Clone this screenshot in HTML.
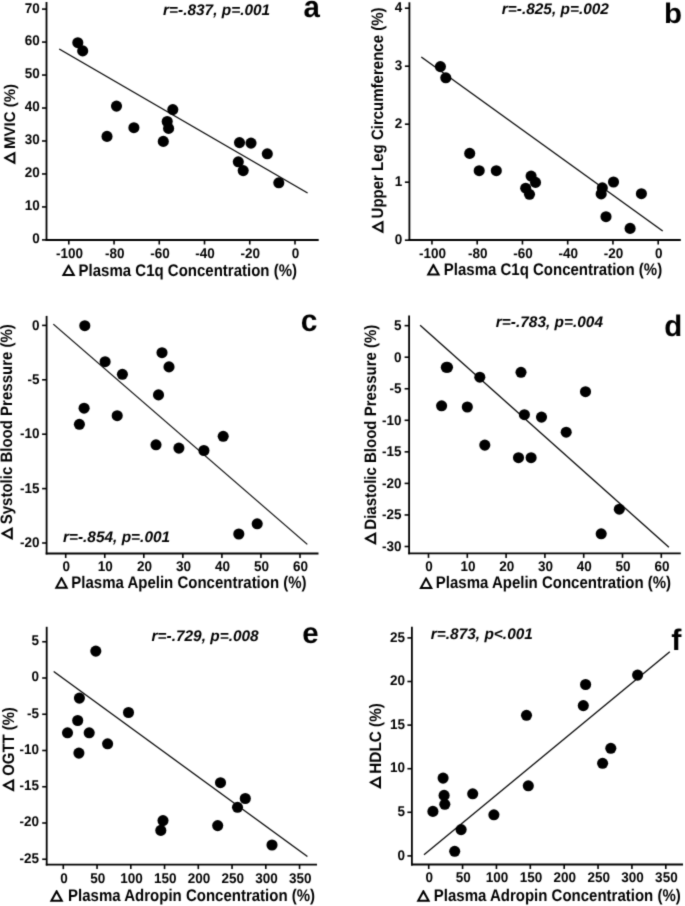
<!DOCTYPE html>
<html><head><meta charset="utf-8"><style>
html,body{margin:0;padding:0;background:#fff;}
body{width:685px;height:906px;overflow:hidden;}
svg{display:block;}
#w{width:685px;height:906px;will-change:transform;}
text{font-family:"Liberation Sans",sans-serif;font-weight:bold;fill:#000;text-rendering:geometricPrecision;}
.tk{font-size:13.5px;}
.tt{font-size:15.0px;}
.rt{font-size:15.43px;font-style:italic;}
.lt{font-size:29.5px;}
</style></head><body>
<div id="w"><svg width="685" height="906" viewBox="0 0 685 906">
<defs><filter id="bl" x="-2%" y="-2%" width="104%" height="104%"><feConvolveMatrix order="3" kernelMatrix="0.01917 0.10012 0.01917 0.10012 0.52283 0.10012 0.01917 0.10012 0.01917" preserveAlpha="false" edgeMode="none"/></filter></defs>
<rect width="685" height="906" fill="#fff"/>
<g filter="url(#bl)"><line x1="46.50" y1="2.00" x2="46.50" y2="240.90" stroke="#000" stroke-width="1.8"/>
<line x1="45.60" y1="240.00" x2="318.70" y2="240.00" stroke="#000" stroke-width="1.8"/>
<line x1="42.00" y1="239.90" x2="46.50" y2="239.90" stroke="#000" stroke-width="1.6"/>
<text transform="translate(39.80 243.30) scale(1.0000 1.0400)" text-anchor="end" class="tk">0</text>
<line x1="42.00" y1="206.93" x2="46.50" y2="206.93" stroke="#000" stroke-width="1.6"/>
<text transform="translate(39.80 210.33) scale(1.0000 1.0400)" text-anchor="end" class="tk">10</text>
<line x1="42.00" y1="173.96" x2="46.50" y2="173.96" stroke="#000" stroke-width="1.6"/>
<text transform="translate(39.80 177.36) scale(1.0000 1.0400)" text-anchor="end" class="tk">20</text>
<line x1="42.00" y1="140.99" x2="46.50" y2="140.99" stroke="#000" stroke-width="1.6"/>
<text transform="translate(39.80 144.39) scale(1.0000 1.0400)" text-anchor="end" class="tk">30</text>
<line x1="42.00" y1="108.02" x2="46.50" y2="108.02" stroke="#000" stroke-width="1.6"/>
<text transform="translate(39.80 111.42) scale(1.0000 1.0400)" text-anchor="end" class="tk">40</text>
<line x1="42.00" y1="75.05" x2="46.50" y2="75.05" stroke="#000" stroke-width="1.6"/>
<text transform="translate(39.80 78.45) scale(1.0000 1.0400)" text-anchor="end" class="tk">50</text>
<line x1="42.00" y1="42.08" x2="46.50" y2="42.08" stroke="#000" stroke-width="1.6"/>
<text transform="translate(39.80 45.48) scale(1.0000 1.0400)" text-anchor="end" class="tk">60</text>
<line x1="42.00" y1="9.11" x2="46.50" y2="9.11" stroke="#000" stroke-width="1.6"/>
<text transform="translate(39.80 12.51) scale(1.0000 1.0400)" text-anchor="end" class="tk">70</text>
<line x1="68.80" y1="240.00" x2="68.80" y2="244.50" stroke="#000" stroke-width="1.6"/>
<text transform="translate(69.40 257.90) scale(1.0000 1.0400)" text-anchor="middle" class="tk">-100</text>
<line x1="114.04" y1="240.00" x2="114.04" y2="244.50" stroke="#000" stroke-width="1.6"/>
<text transform="translate(114.64 257.90) scale(1.0000 1.0400)" text-anchor="middle" class="tk">-80</text>
<line x1="159.28" y1="240.00" x2="159.28" y2="244.50" stroke="#000" stroke-width="1.6"/>
<text transform="translate(159.88 257.90) scale(1.0000 1.0400)" text-anchor="middle" class="tk">-60</text>
<line x1="204.52" y1="240.00" x2="204.52" y2="244.50" stroke="#000" stroke-width="1.6"/>
<text transform="translate(205.12 257.90) scale(1.0000 1.0400)" text-anchor="middle" class="tk">-40</text>
<line x1="249.76" y1="240.00" x2="249.76" y2="244.50" stroke="#000" stroke-width="1.6"/>
<text transform="translate(250.36 257.90) scale(1.0000 1.0400)" text-anchor="middle" class="tk">-20</text>
<line x1="295.00" y1="240.00" x2="295.00" y2="244.50" stroke="#000" stroke-width="1.6"/>
<text transform="translate(295.60 257.90) scale(1.0000 1.0400)" text-anchor="middle" class="tk">0</text>
<line x1="59.20" y1="49.00" x2="307.60" y2="193.10" stroke="#000" stroke-width="1.2"/>
<circle cx="77.80" cy="42.70" r="5.55" fill="#000"/>
<circle cx="82.70" cy="50.90" r="5.55" fill="#000"/>
<circle cx="116.50" cy="106.10" r="5.55" fill="#000"/>
<circle cx="133.90" cy="127.70" r="5.55" fill="#000"/>
<circle cx="107.00" cy="136.40" r="5.55" fill="#000"/>
<circle cx="172.80" cy="109.60" r="5.55" fill="#000"/>
<circle cx="167.20" cy="121.50" r="5.55" fill="#000"/>
<circle cx="168.60" cy="128.40" r="5.55" fill="#000"/>
<circle cx="163.30" cy="141.40" r="5.55" fill="#000"/>
<circle cx="239.50" cy="142.60" r="5.55" fill="#000"/>
<circle cx="251.00" cy="143.10" r="5.55" fill="#000"/>
<circle cx="267.30" cy="153.80" r="5.55" fill="#000"/>
<circle cx="238.30" cy="161.80" r="5.55" fill="#000"/>
<circle cx="243.20" cy="170.60" r="5.55" fill="#000"/>
<circle cx="278.80" cy="182.80" r="5.55" fill="#000"/>
<text x="163.04" y="14.90" class="rt">r=-.837, p=.001</text>
<text transform="translate(303.39 16.60) scale(1.0000 1.0200)" class="lt">a</text>
<path d="M61.70 276.10L68.15 264.42L69.05 264.42L75.50 276.10ZM65.09 274.10L72.11 274.10L68.60 267.74Z" fill="#000" fill-rule="evenodd"/>
<text transform="translate(78.60 275.50) scale(1.0000 1.1200)" class="tt">Plasma C1q Concentration (%)</text>
<g transform="translate(14.90 164.40) rotate(-90)"><path d="M0.00 0.50L6.05 -11.13L6.95 -11.13L13.00 0.50ZM3.29 -1.50L9.71 -1.50L6.50 -7.66Z" fill="#000" fill-rule="evenodd"/><text transform="translate(15.50 0.00) scale(1.0000 1.0300)" class="tt">MVIC (%)</text></g>
<line x1="409.40" y1="2.30" x2="409.40" y2="240.90" stroke="#000" stroke-width="1.8"/>
<line x1="408.50" y1="240.00" x2="680.80" y2="240.00" stroke="#000" stroke-width="1.8"/>
<line x1="404.90" y1="240.20" x2="409.40" y2="240.20" stroke="#000" stroke-width="1.6"/>
<text transform="translate(402.20 243.70) scale(1.0000 1.0400)" text-anchor="end" class="tk">0</text>
<line x1="404.90" y1="182.20" x2="409.40" y2="182.20" stroke="#000" stroke-width="1.6"/>
<text transform="translate(402.20 185.70) scale(1.0000 1.0400)" text-anchor="end" class="tk">1</text>
<line x1="404.90" y1="124.20" x2="409.40" y2="124.20" stroke="#000" stroke-width="1.6"/>
<text transform="translate(402.20 127.70) scale(1.0000 1.0400)" text-anchor="end" class="tk">2</text>
<line x1="404.90" y1="66.20" x2="409.40" y2="66.20" stroke="#000" stroke-width="1.6"/>
<text transform="translate(402.20 69.70) scale(1.0000 1.0400)" text-anchor="end" class="tk">3</text>
<line x1="404.90" y1="8.20" x2="409.40" y2="8.20" stroke="#000" stroke-width="1.6"/>
<text transform="translate(402.20 11.70) scale(1.0000 1.0400)" text-anchor="end" class="tk">4</text>
<line x1="431.95" y1="240.00" x2="431.95" y2="244.50" stroke="#000" stroke-width="1.6"/>
<text transform="translate(432.55 257.90) scale(1.0000 1.0400)" text-anchor="middle" class="tk">-100</text>
<line x1="477.20" y1="240.00" x2="477.20" y2="244.50" stroke="#000" stroke-width="1.6"/>
<text transform="translate(477.80 257.90) scale(1.0000 1.0400)" text-anchor="middle" class="tk">-80</text>
<line x1="522.45" y1="240.00" x2="522.45" y2="244.50" stroke="#000" stroke-width="1.6"/>
<text transform="translate(523.05 257.90) scale(1.0000 1.0400)" text-anchor="middle" class="tk">-60</text>
<line x1="567.70" y1="240.00" x2="567.70" y2="244.50" stroke="#000" stroke-width="1.6"/>
<text transform="translate(568.30 257.90) scale(1.0000 1.0400)" text-anchor="middle" class="tk">-40</text>
<line x1="612.95" y1="240.00" x2="612.95" y2="244.50" stroke="#000" stroke-width="1.6"/>
<text transform="translate(613.55 257.90) scale(1.0000 1.0400)" text-anchor="middle" class="tk">-20</text>
<line x1="658.20" y1="240.00" x2="658.20" y2="244.50" stroke="#000" stroke-width="1.6"/>
<text transform="translate(658.80 257.90) scale(1.0000 1.0400)" text-anchor="middle" class="tk">0</text>
<line x1="421.30" y1="57.00" x2="662.70" y2="231.00" stroke="#000" stroke-width="1.2"/>
<circle cx="440.40" cy="66.60" r="5.55" fill="#000"/>
<circle cx="445.80" cy="77.80" r="5.55" fill="#000"/>
<circle cx="469.70" cy="153.40" r="5.55" fill="#000"/>
<circle cx="479.20" cy="170.70" r="5.55" fill="#000"/>
<circle cx="496.30" cy="170.70" r="5.55" fill="#000"/>
<circle cx="531.10" cy="176.10" r="5.55" fill="#000"/>
<circle cx="535.50" cy="182.40" r="5.55" fill="#000"/>
<circle cx="525.70" cy="188.20" r="5.55" fill="#000"/>
<circle cx="529.50" cy="194.30" r="5.55" fill="#000"/>
<circle cx="613.50" cy="182.00" r="5.55" fill="#000"/>
<circle cx="602.30" cy="187.90" r="5.55" fill="#000"/>
<circle cx="601.20" cy="193.90" r="5.55" fill="#000"/>
<circle cx="641.40" cy="193.70" r="5.55" fill="#000"/>
<circle cx="606.00" cy="216.70" r="5.55" fill="#000"/>
<circle cx="630.10" cy="228.40" r="5.55" fill="#000"/>
<text x="501.74" y="14.20" class="rt">r=-.825, p=.002</text>
<text transform="translate(664.06 23.10) scale(1.0000 0.9650)" class="lt">b</text>
<path d="M426.50 275.50L432.95 263.82L433.85 263.82L440.30 275.50ZM429.89 273.50L436.91 273.50L433.40 267.14Z" fill="#000" fill-rule="evenodd"/>
<text transform="translate(443.80 274.90) scale(1.0000 1.1200)" class="tt">Plasma C1q Concentration (%)</text>
<g transform="translate(383.00 233.40) rotate(-90)"><path d="M0.00 0.50L6.05 -11.13L6.95 -11.13L13.00 0.50ZM3.29 -1.50L9.71 -1.50L6.50 -7.66Z" fill="#000" fill-rule="evenodd"/><text transform="translate(15.00 0.00) scale(1.0000 1.1000)" class="tt">Upper Leg Circumference (%)</text></g>
<line x1="46.60" y1="315.90" x2="46.60" y2="554.40" stroke="#000" stroke-width="1.8"/>
<line x1="45.70" y1="553.50" x2="318.50" y2="553.50" stroke="#000" stroke-width="1.8"/>
<line x1="42.10" y1="325.40" x2="46.60" y2="325.40" stroke="#000" stroke-width="1.6"/>
<text transform="translate(39.40 329.60) scale(1.0000 1.0400)" text-anchor="end" class="tk">0</text>
<line x1="42.10" y1="379.80" x2="46.60" y2="379.80" stroke="#000" stroke-width="1.6"/>
<text transform="translate(39.40 384.00) scale(1.0000 1.0400)" text-anchor="end" class="tk">-5</text>
<line x1="42.10" y1="434.20" x2="46.60" y2="434.20" stroke="#000" stroke-width="1.6"/>
<text transform="translate(39.40 438.40) scale(1.0000 1.0400)" text-anchor="end" class="tk">-10</text>
<line x1="42.10" y1="488.60" x2="46.60" y2="488.60" stroke="#000" stroke-width="1.6"/>
<text transform="translate(39.40 492.80) scale(1.0000 1.0400)" text-anchor="end" class="tk">-15</text>
<line x1="42.10" y1="543.00" x2="46.60" y2="543.00" stroke="#000" stroke-width="1.6"/>
<text transform="translate(39.40 547.20) scale(1.0000 1.0400)" text-anchor="end" class="tk">-20</text>
<line x1="65.70" y1="553.50" x2="65.70" y2="558.00" stroke="#000" stroke-width="1.6"/>
<text transform="translate(66.30 571.40) scale(1.0000 1.0400)" text-anchor="middle" class="tk">0</text>
<line x1="104.75" y1="553.50" x2="104.75" y2="558.00" stroke="#000" stroke-width="1.6"/>
<text transform="translate(105.35 571.40) scale(1.0000 1.0400)" text-anchor="middle" class="tk">10</text>
<line x1="143.80" y1="553.50" x2="143.80" y2="558.00" stroke="#000" stroke-width="1.6"/>
<text transform="translate(144.40 571.40) scale(1.0000 1.0400)" text-anchor="middle" class="tk">20</text>
<line x1="182.85" y1="553.50" x2="182.85" y2="558.00" stroke="#000" stroke-width="1.6"/>
<text transform="translate(183.45 571.40) scale(1.0000 1.0400)" text-anchor="middle" class="tk">30</text>
<line x1="221.90" y1="553.50" x2="221.90" y2="558.00" stroke="#000" stroke-width="1.6"/>
<text transform="translate(222.50 571.40) scale(1.0000 1.0400)" text-anchor="middle" class="tk">40</text>
<line x1="260.95" y1="553.50" x2="260.95" y2="558.00" stroke="#000" stroke-width="1.6"/>
<text transform="translate(261.55 571.40) scale(1.0000 1.0400)" text-anchor="middle" class="tk">50</text>
<line x1="300.00" y1="553.50" x2="300.00" y2="558.00" stroke="#000" stroke-width="1.6"/>
<text transform="translate(300.60 571.40) scale(1.0000 1.0400)" text-anchor="middle" class="tk">60</text>
<line x1="53.30" y1="324.10" x2="307.30" y2="544.40" stroke="#000" stroke-width="1.2"/>
<circle cx="84.80" cy="325.70" r="5.55" fill="#000"/>
<circle cx="105.10" cy="361.70" r="5.55" fill="#000"/>
<circle cx="122.40" cy="374.30" r="5.55" fill="#000"/>
<circle cx="162.00" cy="352.70" r="5.55" fill="#000"/>
<circle cx="169.00" cy="366.90" r="5.55" fill="#000"/>
<circle cx="158.50" cy="394.90" r="5.55" fill="#000"/>
<circle cx="84.10" cy="408.20" r="5.55" fill="#000"/>
<circle cx="79.40" cy="424.30" r="5.55" fill="#000"/>
<circle cx="117.20" cy="415.70" r="5.55" fill="#000"/>
<circle cx="156.00" cy="444.80" r="5.55" fill="#000"/>
<circle cx="178.90" cy="448.10" r="5.55" fill="#000"/>
<circle cx="203.90" cy="450.50" r="5.55" fill="#000"/>
<circle cx="223.20" cy="436.30" r="5.55" fill="#000"/>
<circle cx="257.20" cy="523.80" r="5.55" fill="#000"/>
<circle cx="238.80" cy="534.00" r="5.55" fill="#000"/>
<text x="62.94" y="541.70" class="rt">r=-.854, p=.001</text>
<text transform="translate(300.83 330.80) scale(1.0000 1.0300)" class="lt" style="font-size:30.0px">c</text>
<path d="M54.60 588.70L61.05 577.02L61.95 577.02L68.40 588.70ZM57.99 586.70L65.01 586.70L61.50 580.34Z" fill="#000" fill-rule="evenodd"/>
<text transform="translate(71.30 588.10) scale(1.0000 1.1200)" class="tt">Plasma Apelin Concentration (%)</text>
<g transform="translate(12.30 540.00) rotate(-90)"><path d="M0.00 0.50L6.05 -11.13L6.95 -11.13L13.00 0.50ZM3.29 -1.50L9.71 -1.50L6.50 -7.66Z" fill="#000" fill-rule="evenodd"/><text transform="translate(15.77 0.00) scale(1.0000 1.1000)" class="tt">Systolic Blood Pressure (%)</text></g>
<line x1="409.10" y1="315.40" x2="409.10" y2="554.30" stroke="#000" stroke-width="1.8"/>
<line x1="408.20" y1="553.40" x2="680.80" y2="553.40" stroke="#000" stroke-width="1.8"/>
<line x1="404.60" y1="325.65" x2="409.10" y2="325.65" stroke="#000" stroke-width="1.6"/>
<text transform="translate(401.40 330.05) scale(1.0000 1.0400)" text-anchor="end" class="tk">5</text>
<line x1="404.60" y1="357.20" x2="409.10" y2="357.20" stroke="#000" stroke-width="1.6"/>
<text transform="translate(401.40 361.60) scale(1.0000 1.0400)" text-anchor="end" class="tk">0</text>
<line x1="404.60" y1="388.75" x2="409.10" y2="388.75" stroke="#000" stroke-width="1.6"/>
<text transform="translate(401.40 393.15) scale(1.0000 1.0400)" text-anchor="end" class="tk">-5</text>
<line x1="404.60" y1="420.30" x2="409.10" y2="420.30" stroke="#000" stroke-width="1.6"/>
<text transform="translate(401.40 424.70) scale(1.0000 1.0400)" text-anchor="end" class="tk">-10</text>
<line x1="404.60" y1="451.85" x2="409.10" y2="451.85" stroke="#000" stroke-width="1.6"/>
<text transform="translate(401.40 456.25) scale(1.0000 1.0400)" text-anchor="end" class="tk">-15</text>
<line x1="404.60" y1="483.40" x2="409.10" y2="483.40" stroke="#000" stroke-width="1.6"/>
<text transform="translate(401.40 487.80) scale(1.0000 1.0400)" text-anchor="end" class="tk">-20</text>
<line x1="404.60" y1="514.95" x2="409.10" y2="514.95" stroke="#000" stroke-width="1.6"/>
<text transform="translate(401.40 519.35) scale(1.0000 1.0400)" text-anchor="end" class="tk">-25</text>
<line x1="404.60" y1="546.50" x2="409.10" y2="546.50" stroke="#000" stroke-width="1.6"/>
<text transform="translate(401.40 550.90) scale(1.0000 1.0400)" text-anchor="end" class="tk">-30</text>
<line x1="428.50" y1="553.40" x2="428.50" y2="557.90" stroke="#000" stroke-width="1.6"/>
<text transform="translate(429.10 571.30) scale(1.0000 1.0400)" text-anchor="middle" class="tk">0</text>
<line x1="467.30" y1="553.40" x2="467.30" y2="557.90" stroke="#000" stroke-width="1.6"/>
<text transform="translate(467.90 571.30) scale(1.0000 1.0400)" text-anchor="middle" class="tk">10</text>
<line x1="506.10" y1="553.40" x2="506.10" y2="557.90" stroke="#000" stroke-width="1.6"/>
<text transform="translate(506.70 571.30) scale(1.0000 1.0400)" text-anchor="middle" class="tk">20</text>
<line x1="544.90" y1="553.40" x2="544.90" y2="557.90" stroke="#000" stroke-width="1.6"/>
<text transform="translate(545.50 571.30) scale(1.0000 1.0400)" text-anchor="middle" class="tk">30</text>
<line x1="583.70" y1="553.40" x2="583.70" y2="557.90" stroke="#000" stroke-width="1.6"/>
<text transform="translate(584.30 571.30) scale(1.0000 1.0400)" text-anchor="middle" class="tk">40</text>
<line x1="622.50" y1="553.40" x2="622.50" y2="557.90" stroke="#000" stroke-width="1.6"/>
<text transform="translate(623.10 571.30) scale(1.0000 1.0400)" text-anchor="middle" class="tk">50</text>
<line x1="661.30" y1="553.40" x2="661.30" y2="557.90" stroke="#000" stroke-width="1.6"/>
<text transform="translate(661.90 571.30) scale(1.0000 1.0400)" text-anchor="middle" class="tk">60</text>
<line x1="420.10" y1="325.20" x2="668.90" y2="547.20" stroke="#000" stroke-width="1.2"/>
<circle cx="446.30" cy="367.30" r="5.55" fill="#000"/>
<circle cx="447.50" cy="367.30" r="5.55" fill="#000"/>
<circle cx="479.80" cy="377.20" r="5.55" fill="#000"/>
<circle cx="441.60" cy="405.80" r="5.55" fill="#000"/>
<circle cx="467.30" cy="407.00" r="5.55" fill="#000"/>
<circle cx="521.00" cy="372.30" r="5.55" fill="#000"/>
<circle cx="585.50" cy="391.70" r="5.55" fill="#000"/>
<circle cx="524.40" cy="414.70" r="5.55" fill="#000"/>
<circle cx="541.50" cy="417.10" r="5.55" fill="#000"/>
<circle cx="566.20" cy="432.20" r="5.55" fill="#000"/>
<circle cx="484.80" cy="445.10" r="5.55" fill="#000"/>
<circle cx="518.50" cy="457.70" r="5.55" fill="#000"/>
<circle cx="531.10" cy="457.70" r="5.55" fill="#000"/>
<circle cx="619.30" cy="509.20" r="5.55" fill="#000"/>
<circle cx="601.20" cy="533.80" r="5.55" fill="#000"/>
<text x="495.84" y="326.60" class="rt">r=-.783, p=.004</text>
<text transform="translate(664.19 335.70) scale(1.0000 1.0050)" class="lt">d</text>
<path d="M419.20 588.90L425.65 577.22L426.55 577.22L433.00 588.90ZM422.59 586.90L429.61 586.90L426.10 580.54Z" fill="#000" fill-rule="evenodd"/>
<text transform="translate(435.80 588.30) scale(1.0000 1.1200)" class="tt">Plasma Apelin Concentration (%)</text>
<g transform="translate(375.70 545.00) rotate(-90)"><path d="M0.00 0.50L6.05 -11.13L6.95 -11.13L13.00 0.50ZM3.29 -1.50L9.71 -1.50L6.50 -7.66Z" fill="#000" fill-rule="evenodd"/><text transform="translate(15.30 0.00) scale(1.0000 1.1000)" class="tt">Diastolic Blood Pressure (%)</text></g>
<line x1="46.70" y1="626.80" x2="46.70" y2="865.50" stroke="#000" stroke-width="1.8"/>
<line x1="45.80" y1="864.60" x2="317.00" y2="864.60" stroke="#000" stroke-width="1.8"/>
<line x1="42.20" y1="641.75" x2="46.70" y2="641.75" stroke="#000" stroke-width="1.6"/>
<text transform="translate(39.00 645.15) scale(1.0000 1.0400)" text-anchor="end" class="tk">5</text>
<line x1="42.20" y1="678.00" x2="46.70" y2="678.00" stroke="#000" stroke-width="1.6"/>
<text transform="translate(39.00 681.40) scale(1.0000 1.0400)" text-anchor="end" class="tk">0</text>
<line x1="42.20" y1="714.25" x2="46.70" y2="714.25" stroke="#000" stroke-width="1.6"/>
<text transform="translate(39.00 717.65) scale(1.0000 1.0400)" text-anchor="end" class="tk">-5</text>
<line x1="42.20" y1="750.50" x2="46.70" y2="750.50" stroke="#000" stroke-width="1.6"/>
<text transform="translate(39.00 753.90) scale(1.0000 1.0400)" text-anchor="end" class="tk">-10</text>
<line x1="42.20" y1="786.75" x2="46.70" y2="786.75" stroke="#000" stroke-width="1.6"/>
<text transform="translate(39.00 790.15) scale(1.0000 1.0400)" text-anchor="end" class="tk">-15</text>
<line x1="42.20" y1="823.00" x2="46.70" y2="823.00" stroke="#000" stroke-width="1.6"/>
<text transform="translate(39.00 826.40) scale(1.0000 1.0400)" text-anchor="end" class="tk">-20</text>
<line x1="42.20" y1="859.25" x2="46.70" y2="859.25" stroke="#000" stroke-width="1.6"/>
<text transform="translate(39.00 862.65) scale(1.0000 1.0400)" text-anchor="end" class="tk">-25</text>
<line x1="63.30" y1="864.60" x2="63.30" y2="869.10" stroke="#000" stroke-width="1.6"/>
<text transform="translate(63.90 882.50) scale(1.0000 1.0400)" text-anchor="middle" class="tk">0</text>
<line x1="97.05" y1="864.60" x2="97.05" y2="869.10" stroke="#000" stroke-width="1.6"/>
<text transform="translate(97.65 882.50) scale(1.0000 1.0400)" text-anchor="middle" class="tk">50</text>
<line x1="130.80" y1="864.60" x2="130.80" y2="869.10" stroke="#000" stroke-width="1.6"/>
<text transform="translate(131.40 882.50) scale(1.0000 1.0400)" text-anchor="middle" class="tk">100</text>
<line x1="164.55" y1="864.60" x2="164.55" y2="869.10" stroke="#000" stroke-width="1.6"/>
<text transform="translate(165.15 882.50) scale(1.0000 1.0400)" text-anchor="middle" class="tk">150</text>
<line x1="198.30" y1="864.60" x2="198.30" y2="869.10" stroke="#000" stroke-width="1.6"/>
<text transform="translate(198.90 882.50) scale(1.0000 1.0400)" text-anchor="middle" class="tk">200</text>
<line x1="232.05" y1="864.60" x2="232.05" y2="869.10" stroke="#000" stroke-width="1.6"/>
<text transform="translate(232.65 882.50) scale(1.0000 1.0400)" text-anchor="middle" class="tk">250</text>
<line x1="265.80" y1="864.60" x2="265.80" y2="869.10" stroke="#000" stroke-width="1.6"/>
<text transform="translate(266.40 882.50) scale(1.0000 1.0400)" text-anchor="middle" class="tk">300</text>
<line x1="299.55" y1="864.60" x2="299.55" y2="869.10" stroke="#000" stroke-width="1.6"/>
<text transform="translate(300.15 882.50) scale(1.0000 1.0400)" text-anchor="middle" class="tk">350</text>
<line x1="53.70" y1="671.40" x2="307.40" y2="856.50" stroke="#000" stroke-width="1.2"/>
<circle cx="95.80" cy="651.10" r="5.55" fill="#000"/>
<circle cx="79.40" cy="698.10" r="5.55" fill="#000"/>
<circle cx="128.50" cy="712.50" r="5.55" fill="#000"/>
<circle cx="77.70" cy="720.50" r="5.55" fill="#000"/>
<circle cx="67.50" cy="732.80" r="5.55" fill="#000"/>
<circle cx="89.20" cy="732.80" r="5.55" fill="#000"/>
<circle cx="107.60" cy="743.80" r="5.55" fill="#000"/>
<circle cx="78.90" cy="753.10" r="5.55" fill="#000"/>
<circle cx="220.50" cy="782.70" r="5.55" fill="#000"/>
<circle cx="245.30" cy="798.50" r="5.55" fill="#000"/>
<circle cx="237.50" cy="807.30" r="5.55" fill="#000"/>
<circle cx="163.00" cy="820.60" r="5.55" fill="#000"/>
<circle cx="160.80" cy="830.40" r="5.55" fill="#000"/>
<circle cx="217.70" cy="825.60" r="5.55" fill="#000"/>
<circle cx="272.00" cy="845.00" r="5.55" fill="#000"/>
<text x="151.54" y="640.70" class="rt">r=-.729, p=.008</text>
<text x="302.35" y="643.20" class="lt">e</text>
<path d="M49.70 901.80L56.15 890.12L57.05 890.12L63.50 901.80ZM53.09 899.80L60.11 899.80L56.60 893.44Z" fill="#000" fill-rule="evenodd"/>
<text transform="translate(68.10 901.20) scale(1.0000 1.1200)" class="tt">Plasma Adropin Concentration (%)</text>
<g transform="translate(13.70 791.70) rotate(-90)"><path d="M0.00 0.50L6.05 -11.13L6.95 -11.13L13.00 0.50ZM3.29 -1.50L9.71 -1.50L6.50 -7.66Z" fill="#000" fill-rule="evenodd"/><text transform="translate(15.99 0.00) scale(0.9910 1.1000)" class="tt">OGTT (%)</text></g>
<line x1="411.90" y1="626.80" x2="411.90" y2="865.40" stroke="#000" stroke-width="1.8"/>
<line x1="411.00" y1="864.50" x2="683.00" y2="864.50" stroke="#000" stroke-width="1.8"/>
<line x1="407.40" y1="855.90" x2="411.90" y2="855.90" stroke="#000" stroke-width="1.6"/>
<text transform="translate(405.10 859.50) scale(1.0000 1.0400)" text-anchor="end" class="tk">0</text>
<line x1="407.40" y1="812.30" x2="411.90" y2="812.30" stroke="#000" stroke-width="1.6"/>
<text transform="translate(405.10 815.90) scale(1.0000 1.0400)" text-anchor="end" class="tk">5</text>
<line x1="407.40" y1="768.70" x2="411.90" y2="768.70" stroke="#000" stroke-width="1.6"/>
<text transform="translate(405.10 772.30) scale(1.0000 1.0400)" text-anchor="end" class="tk">10</text>
<line x1="407.40" y1="725.10" x2="411.90" y2="725.10" stroke="#000" stroke-width="1.6"/>
<text transform="translate(405.10 728.70) scale(1.0000 1.0400)" text-anchor="end" class="tk">15</text>
<line x1="407.40" y1="681.50" x2="411.90" y2="681.50" stroke="#000" stroke-width="1.6"/>
<text transform="translate(405.10 685.10) scale(1.0000 1.0400)" text-anchor="end" class="tk">20</text>
<line x1="407.40" y1="637.90" x2="411.90" y2="637.90" stroke="#000" stroke-width="1.6"/>
<text transform="translate(405.10 641.50) scale(1.0000 1.0400)" text-anchor="end" class="tk">25</text>
<line x1="428.70" y1="864.50" x2="428.70" y2="869.00" stroke="#000" stroke-width="1.6"/>
<text transform="translate(429.30 882.40) scale(1.0000 1.0400)" text-anchor="middle" class="tk">0</text>
<line x1="462.57" y1="864.50" x2="462.57" y2="869.00" stroke="#000" stroke-width="1.6"/>
<text transform="translate(463.17 882.40) scale(1.0000 1.0400)" text-anchor="middle" class="tk">50</text>
<line x1="496.44" y1="864.50" x2="496.44" y2="869.00" stroke="#000" stroke-width="1.6"/>
<text transform="translate(497.04 882.40) scale(1.0000 1.0400)" text-anchor="middle" class="tk">100</text>
<line x1="530.31" y1="864.50" x2="530.31" y2="869.00" stroke="#000" stroke-width="1.6"/>
<text transform="translate(530.91 882.40) scale(1.0000 1.0400)" text-anchor="middle" class="tk">150</text>
<line x1="564.18" y1="864.50" x2="564.18" y2="869.00" stroke="#000" stroke-width="1.6"/>
<text transform="translate(564.78 882.40) scale(1.0000 1.0400)" text-anchor="middle" class="tk">200</text>
<line x1="598.05" y1="864.50" x2="598.05" y2="869.00" stroke="#000" stroke-width="1.6"/>
<text transform="translate(598.65 882.40) scale(1.0000 1.0400)" text-anchor="middle" class="tk">250</text>
<line x1="631.92" y1="864.50" x2="631.92" y2="869.00" stroke="#000" stroke-width="1.6"/>
<text transform="translate(632.52 882.40) scale(1.0000 1.0400)" text-anchor="middle" class="tk">300</text>
<line x1="665.79" y1="864.50" x2="665.79" y2="869.00" stroke="#000" stroke-width="1.6"/>
<text transform="translate(666.39 882.40) scale(1.0000 1.0400)" text-anchor="middle" class="tk">350</text>
<line x1="424.00" y1="854.80" x2="669.80" y2="651.80" stroke="#000" stroke-width="1.2"/>
<circle cx="526.50" cy="715.30" r="5.55" fill="#000"/>
<circle cx="443.10" cy="778.10" r="5.55" fill="#000"/>
<circle cx="528.30" cy="785.80" r="5.55" fill="#000"/>
<circle cx="472.70" cy="793.80" r="5.55" fill="#000"/>
<circle cx="444.10" cy="795.40" r="5.55" fill="#000"/>
<circle cx="444.80" cy="804.30" r="5.55" fill="#000"/>
<circle cx="432.90" cy="811.40" r="5.55" fill="#000"/>
<circle cx="493.90" cy="814.80" r="5.55" fill="#000"/>
<circle cx="461.10" cy="829.60" r="5.55" fill="#000"/>
<circle cx="454.70" cy="851.30" r="5.55" fill="#000"/>
<circle cx="637.60" cy="675.10" r="5.55" fill="#000"/>
<circle cx="585.60" cy="684.50" r="5.55" fill="#000"/>
<circle cx="583.30" cy="705.60" r="5.55" fill="#000"/>
<circle cx="610.80" cy="748.30" r="5.55" fill="#000"/>
<circle cx="602.60" cy="763.30" r="5.55" fill="#000"/>
<text x="430.84" y="638.50" class="rt">r=.873, p&lt;.001</text>
<text transform="translate(671.28 649.80) scale(1.0000 0.9750)" class="lt" style="font-size:30.5px">f</text>
<path d="M416.50 901.80L422.95 890.12L423.85 890.12L430.30 901.80ZM419.89 899.80L426.91 899.80L423.40 893.44Z" fill="#000" fill-rule="evenodd"/>
<text transform="translate(433.80 901.20) scale(1.0000 1.1200)" class="tt">Plasma Adropin Concentration (%)</text>
<g transform="translate(380.50 788.90) rotate(-90)"><path d="M0.00 0.50L6.05 -11.13L6.95 -11.13L13.00 0.50ZM3.29 -1.50L9.71 -1.50L6.50 -7.66Z" fill="#000" fill-rule="evenodd"/><text transform="translate(15.18 0.00) scale(1.0210 1.1000)" class="tt">HDLC (%)</text></g></g>
</svg></div>
</body></html>
